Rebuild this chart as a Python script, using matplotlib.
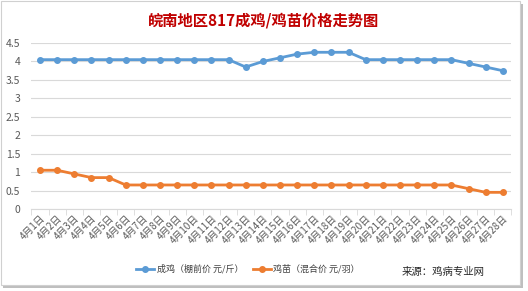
import matplotlib
matplotlib.use("Agg")
import matplotlib.pyplot as plt
from matplotlib.patches import Rectangle

plt.rcParams['font.family'] = ['Noto Sans CJK SC', 'DejaVu Sans']

dates = [f"4月{d}日" for d in range(1, 29)]
adult = [4.05]*12 + [3.85, 4.0, 4.1, 4.2, 4.25, 4.25, 4.25] + [4.05]*6 + [3.95, 3.85, 3.75]
chick = [1.05, 1.05, 0.95, 0.85, 0.85] + [0.65]*20 + [0.55, 0.45, 0.45]
yticks = [0, 0.5, 1, 1.5, 2, 2.5, 3, 3.5, 4, 4.5]
ytick_labels = ["0", "0.5", "1", "1.5", "2", "2.5", "3", "3.5", "4", "4.5"]

fig = plt.figure(figsize=(5.28, 2.91), dpi=100)
fig.patch.set_facecolor('white')
# frame with shadow
fig.patches.append(Rectangle((0.006, 0.012), 0.985, 0.975, transform=fig.transFigure,
                             facecolor='#BFBFBF', edgecolor='none', zorder=-10))
fig.patches.append(Rectangle((0.002, 0.02), 0.983, 0.975, transform=fig.transFigure,
                             facecolor='white', edgecolor='#D0D0D0', lw=0.8, zorder=-9))

ax = fig.add_axes([0.0595, 0.282, 0.909, 0.570])
ax.set_facecolor('none')
x = list(range(len(dates)))
ax.plot(x, adult, color='#5B9BD5', lw=2, marker='o', ms=4, label='成鸡（棚前价 元/斤）')
ax.plot(x, chick, color='#ED7D31', lw=2, marker='o', ms=4, label='鸡苗（混合价 元/羽）')

ax.set_xlim(-0.5, len(dates) - 0.5)
ax.set_ylim(0, 4.5)
ax.set_yticks(yticks)
ax.set_yticklabels(ytick_labels, fontsize=7.5, color='#595959')
ax.yaxis.grid(True, color='#D9D9D9', lw=0.8)
ax.set_axisbelow(True)
ax.tick_params(axis='y', length=0, pad=8)
for s in ['top', 'right', 'left']:
    ax.spines[s].set_visible(False)
ax.spines['bottom'].set_color('#D9D9D9')

ax.set_xticks(x)
ax.set_xticklabels(dates, rotation=45, ha='right', va='top', fontsize=7, color='#595959',
                   rotation_mode='anchor')
ax.set_xticks([i - 0.5 for i in range(len(dates) + 1)], minor=True)
ax.tick_params(axis='x', which='major', length=0, pad=3)
ax.tick_params(axis='x', which='minor', length=4, color='#D9D9D9')

fig.text(0.5, 0.93, '皖南地区817成鸡/鸡苗价格走势图', ha='center', va='center',
         fontsize=11, fontweight='bold', color='#C00000')

leg = fig.legend(loc='center', bbox_to_anchor=(0.47, 0.075), ncol=2, frameon=False,
                 fontsize=6.5, handlelength=2.0, handletextpad=0.3, columnspacing=1.0,
                 labelcolor='#404040')
fig.text(0.76, 0.065, '来源：鸡病专业网', ha='left', va='center', fontsize=7.5, color='#262626')

fig.savefig('out.png', dpi=100)
